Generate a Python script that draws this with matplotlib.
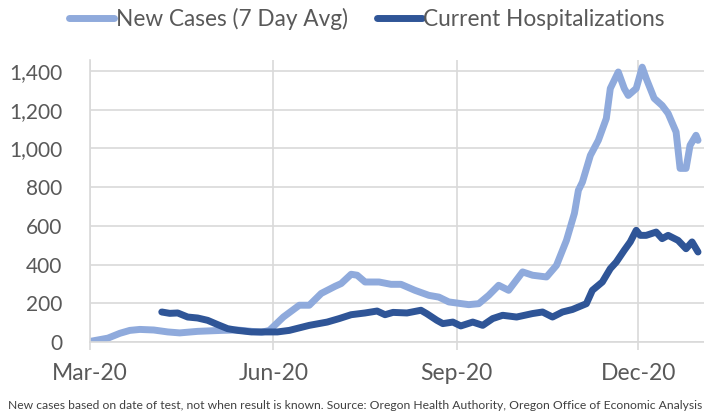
import numpy as np
import pandas as pd
import matplotlib
matplotlib.use("Agg")
import matplotlib.pyplot as plt
import matplotlib.dates as mdates

plt.rcParams['font.family'] = ['Lato', 'DejaVu Sans']

# values
case_dates = ["2020-03-01", "2020-03-10", "2020-03-16", "2020-03-21", "2020-03-26",
              "2020-04-02", "2020-04-09", "2020-04-15", "2020-04-24", "2020-05-06",
              "2020-05-14", "2020-05-26", "2020-05-30", "2020-06-06", "2020-06-14",
              "2020-06-19", "2020-06-25", "2020-07-02", "2020-07-05", "2020-07-10",
              "2020-07-13", "2020-07-17", "2020-07-24", "2020-07-30", "2020-08-04",
              "2020-08-11", "2020-08-18", "2020-08-23", "2020-08-28", "2020-09-02",
              "2020-09-07", "2020-09-12", "2020-09-17", "2020-09-22", "2020-09-27",
              "2020-10-04", "2020-10-09", "2020-10-16", "2020-10-21", "2020-10-26",
              "2020-10-30", "2020-11-01", "2020-11-03", "2020-11-07", "2020-11-11",
              "2020-11-15", "2020-11-17", "2020-11-21", "2020-11-24", "2020-11-26",
              "2020-11-30", "2020-12-03", "2020-12-05", "2020-12-09", "2020-12-13",
              "2020-12-16", "2020-12-20", "2020-12-22", "2020-12-25", "2020-12-27",
              "2020-12-30", "2020-12-31"]
new_cases = [3, 20, 45, 60, 65,
             62, 52, 47, 55, 60,
             62, 50, 60, 129, 190,
             190, 251, 288, 302, 350,
             345, 310, 310, 298, 298,
             267, 241, 232, 207, 200,
             193, 198, 241, 293, 267,
             362, 345, 336, 396, 525,
             665, 784, 826, 964, 1042,
             1155, 1310, 1395, 1310, 1274,
             1310, 1420, 1362, 1259, 1222,
             1181, 1085, 897, 897, 1016,
             1068, 1042]

hosp_dates = ["2020-04-06", "2020-04-10", "2020-04-14", "2020-04-19", "2020-04-24",
              "2020-04-29", "2020-05-04", "2020-05-09", "2020-05-14", "2020-05-21",
              "2020-05-28", "2020-06-03", "2020-06-09", "2020-06-19", "2020-06-28",
              "2020-07-04", "2020-07-10", "2020-07-17", "2020-07-23", "2020-07-27",
              "2020-07-31", "2020-08-07", "2020-08-14", "2020-08-17", "2020-08-22",
              "2020-08-25", "2020-08-30", "2020-09-03", "2020-09-09", "2020-09-14",
              "2020-09-19", "2020-09-24", "2020-10-01", "2020-10-09", "2020-10-14",
              "2020-10-19", "2020-10-24", "2020-10-29", "2020-11-05", "2020-11-08",
              "2020-11-13", "2020-11-17", "2020-11-20", "2020-11-24", "2020-11-27",
              "2020-11-30", "2020-12-02", "2020-12-05", "2020-12-10", "2020-12-13",
              "2020-12-16", "2020-12-21", "2020-12-25", "2020-12-28", "2020-12-31"]
hospitalized = [155, 148, 150, 129, 124,
                112, 90, 69, 60, 52,
                52, 52, 60, 86, 103,
                121, 141, 150, 160, 141,
                153, 150, 164, 146, 112,
                95, 103, 83, 103, 86,
                121, 138, 129, 147, 155,
                129, 155, 168, 198, 267,
                310, 379, 413, 474, 517,
                577, 551, 551, 568, 534,
                551, 525, 482, 517, 465]

tick_dates = ["2020-03-01", "2020-06-01", "2020-09-01", "2020-12-01"]
tick_labels = ["Mar-20", "Jun-20", "Sep-20", "Dec-20"]

light = '#8FAADC'
dark = '#2F5597'
grid = '#D9D9D9'
txt = '#595959'

fig = plt.figure(figsize=(7.04, 4.15), dpi=100)
ax = fig.add_axes([90/704, 1 - 342/415, 614/704, 282/415])

ax.plot(pd.to_datetime(case_dates), new_cases, color=light, lw=5,
        solid_capstyle='round', solid_joinstyle='round', label='New Cases (7 Day Avg)')
ax.plot(pd.to_datetime(hosp_dates), hospitalized, color=dark, lw=5,
        solid_capstyle='round', solid_joinstyle='round', label='Current Hospitalizations')

ax.set_xlim(pd.Timestamp("2020-03-01"), pd.Timestamp("2021-01-03"))
ax.set_ylim(0, 1457)
ax.set_yticks(range(0, 1401, 200))
ax.yaxis.set_major_formatter(matplotlib.ticker.FuncFormatter(lambda v, p: f"{int(v):,}"))
ax.set_xticks(pd.to_datetime(tick_dates))
ax.set_xticklabels(tick_labels)

ax.grid(True, color=grid, lw=1.2)
ax.set_axisbelow(True)
for s in ['top', 'right']:
    ax.spines[s].set_visible(False)
ax.spines['left'].set_color(grid)
ax.spines['left'].set_linewidth(1.2)
ax.spines['bottom'].set_color(grid)
ax.spines['bottom'].set_linewidth(1.2)
ax.tick_params(axis='y', length=0, pad=20, labelsize=15, labelcolor=txt)
ax.tick_params(axis='x', length=6, width=1.2, color=grid, pad=9, labelsize=16.5, labelcolor=txt)

fig.legend(loc='center', bbox_to_anchor=(367/704, 1 - 19/415), ncol=2, frameon=False,
           fontsize=16.3, handlelength=2.0, handletextpad=0.05, columnspacing=1.3,
           labelcolor=txt)

fig.text(8/704, 1 - 405/415, "New cases based on date of test, not when result is known. "
         "Source: Oregon Health Authority, Oregon Office of Economic Analysis",
         fontsize=8.75, color='#404040', va='center', ha='left')

fig.savefig("out.png", dpi=100)
